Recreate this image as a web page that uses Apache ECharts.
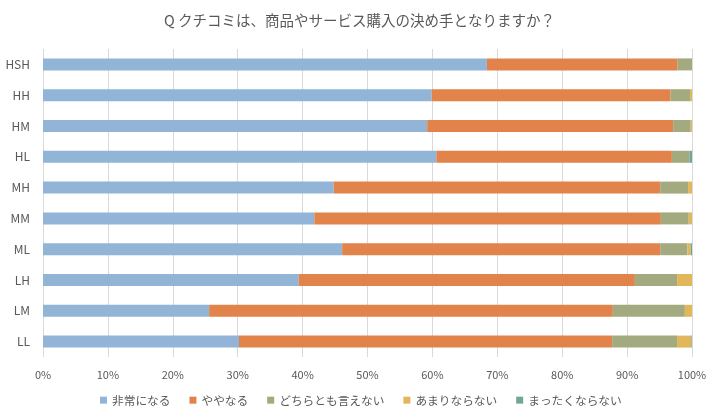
<!DOCTYPE html>
<html><head><meta charset="utf-8">
<script src="https://cdn.jsdelivr.net/npm/echarts@6/dist/echarts.min.js"></script>
<style>html,body{margin:0;padding:0;background:#fff}#c{width:719px;height:419px}</style>
</head><body><div id="c"></div>
<script>
const categories = ['HSH','HH','HM','HL','MH','MM','ML','LH','LM','LL'];
const seriesNames = ['非常になる','ややなる','どちらとも言えない','あまりならない','まったくならない'];
const s1 = [68.4, 59.9, 59.2, 60.6, 44.8, 41.8, 46.1, 39.4, 25.6, 30.2];
const s2 = [29.4, 36.8, 37.9, 36.3, 50.3, 53.4, 49.0, 51.8, 62.2, 57.5];
const s3 = [2.2, 3.0, 2.7, 2.7, 4.3, 4.3, 4.2, 6.5, 11.1, 10.0];
const s4 = [0, 0.3, 0.2, 0, 0.6, 0.5, 0.5, 2.3, 1.1, 2.2];
const s5 = [0, 0, 0, 0.4, 0, 0, 0.2, 0, 0, 0.1];
const xTicks = ['0%','10%','20%','30%','40%','50%','60%','70%','80%','90%','100%'];
const colors = ['#91b4d7','#e1834a','#a3aa80','#e2b75c','#72a597'];
const values = [s1,s2,s3,s4,s5];
const font = '"Noto Sans CJK JP", "Noto Sans", sans-serif';
const chart = echarts.init(document.getElementById('c'));
chart.setOption({
  animation:false,
  color: colors,
  textStyle:{fontFamily:font},
  title:{text:'Q クチコミは、商品やサービス購入の決め手となりますか？', left:'center', top:8,
    textStyle:{fontSize:14.5, fontWeight:'normal', color:'#595959', fontFamily:font}},
  legend:{bottom:8, left:95, itemWidth:7, itemHeight:7, itemGap:19, icon:'rect',
    textStyle:{fontSize:11.7, color:'#595959', fontFamily:font},
    data: seriesNames},
  grid:{left:43, right:27, top:49, bottom:62},
  xAxis:{type:'value', min:0, max:100, interval:10,
    axisLabel:{formatter:(v)=>xTicks[Math.round(v/10)], color:'#595959', fontSize:11, margin:12},
    splitLine:{lineStyle:{color:'#d9d9d9', width:1}},
    axisLine:{show:false}, axisTick:{show:false}},
  yAxis:{type:'category', data:categories, inverse:true,
    axisLabel:{color:'#595959', fontSize:12, margin:13},
    axisLine:{show:false}, axisTick:{show:false}},
  series: seriesNames.map((n,i)=>({name:n, type:'bar', stack:'a', data:values[i], barWidth:'39%'}))
});
</script></body></html>
